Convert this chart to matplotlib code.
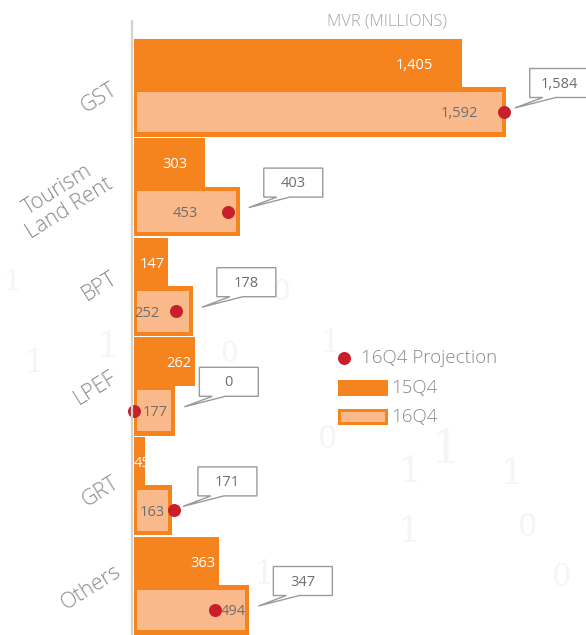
import matplotlib
matplotlib.use("Agg")
import matplotlib.pyplot as plt
from matplotlib.patches import Polygon, Rectangle

# ---------------- data ----------------
categories = ["GST", "Tourism\nLand Rent", "BPT", "LPEF", "GRT", "Others"]
q15_values = [1405, 303, 147, 262, 45, 363]
q16_values = [1592, 453, 252, 177, 163, 494]
projection_values = [1584, 403, 178, 0, 171, 347]
series_names = ["16Q4 Projection", "15Q4", "16Q4"]
axis_title = "MVR (MILLIONS)"

# ---------------- style ----------------
W, H = 586, 635
ORANGE = "#F5841F"
LIGHT = "#F9B98A"
RED = "#C81F2A"
GRAY_TXT = "#8a8a8a"
VAL_GRAY = "#6e6e6e"
BOX_EDGE = "#9a9a9a"
FONT = ["Open Sans", "DejaVu Sans"]
LIGHTW = "light"

X0_PX, PX_PER_UNIT = 134, 0.2335      # axis origin and x scale (pixels)
Y0_PX, PX_PER_CAT = 87, 99.6          # first category centre and spacing (pixels)

LABEL15_DX = [-48, -30, -16, -16, -2, -16]   # label centre offset from bar end (px)
LABEL16_DX = [-46, -55, -46, -20, -20, -16]
CAT_LABEL_XY = [(99, 98), (64, 199), (100, 286), (96, 388), (100, 492), (91, 588)]

fig = plt.figure(figsize=(W / 100, H / 100), dpi=100)
fig.patch.set_facecolor("white")

# background (watermark) axes in pixel coordinates
bg = fig.add_axes([0, 0, 1, 1], zorder=0)
bg.set_xlim(0, W); bg.set_ylim(H, 0); bg.axis("off")
wm = [(445, 450, "1", 34), (410, 472, "1", 26), (512, 474, "1", 26), (409, 532, "1", 26),
      (108, 347, "1", 26), (12, 283, "1", 20), (34, 363, "1", 22), (328, 440, "0", 22),
      (528, 528, "0", 22), (562, 578, "0", 22), (281, 293, "0", 20), (229, 355, "0", 20),
      (330, 343, "1", 22), (265, 575, "1", 24)]
for x, y, s, fs in wm:
    bg.text(x, y, s, color="#f5f5f5", fontsize=fs, family="DejaVu Serif",
            ha="center", va="center")

# main data axes
ax = fig.add_axes([0, 0, 1, 1], zorder=1)
ax.patch.set_alpha(0)
ax.set_xlim(-X0_PX / PX_PER_UNIT, (W - X0_PX) / PX_PER_UNIT)
ax.set_ylim((H - Y0_PX) / PX_PER_CAT, -Y0_PX / PX_PER_CAT)
ax.axis("off")

# overlay in pixel coordinates
ov = fig.add_axes([0, 0, 1, 1], zorder=2)
ov.patch.set_alpha(0)
ov.set_xlim(0, W); ov.set_ylim(H, 0); ov.axis("off")


def to_px(x, y):
    return ov.transData.inverted().transform(ax.transData.transform((x, y)))


ypos = list(range(len(categories)))
inset_l = 3 / PX_PER_UNIT
inset_r = 4 / PX_PER_UNIT
inset_y = 4.5 / PX_PER_CAT

# bars
ax.barh([y - 0.24 for y in ypos], q15_values, height=0.49, color=ORANGE, zorder=2)
ax.barh([y + 0.25 for y in ypos], q16_values, height=0.5, color=ORANGE, zorder=2)
ax.barh([y + 0.25 for y in ypos], [v - inset_l - inset_r for v in q16_values],
        left=inset_l, height=0.5 - 2 * inset_y, color=LIGHT, zorder=3)

# projection dots
ax.scatter(projection_values, [y + 0.25 for y in ypos], s=(13 * 0.72) ** 2,
           color=RED, zorder=5, linewidths=0)

# axis line
ov.plot([132, 132], [20, H], color="#d2d2d2", lw=1.6, zorder=1, solid_capstyle="butt")

# title
ov.text(387, 22, axis_title, color="#a3a3a3", fontsize=12, family=FONT,
        weight=LIGHTW, ha="center", va="center")

for i, y in enumerate(ypos):
    # value labels
    ex15, cy15 = to_px(q15_values[i], y - 0.24)
    ov.text(ex15 + LABEL15_DX[i], cy15 + 2, f"{q15_values[i]:,}", color="white",
            fontsize=10.5, family=FONT, ha="center", va="center", zorder=6)
    ex16, cy16 = to_px(q16_values[i], y + 0.25)
    ov.text(ex16 + LABEL16_DX[i], cy16 + 2, f"{q16_values[i]:,}", color=VAL_GRAY,
            fontsize=10.5, family=FONT, ha="center", va="center", zorder=6)

    # category labels
    lx, ly = CAT_LABEL_XY[i]
    ov.text(lx, ly, categories[i], color=GRAY_TXT, fontsize=15.5, family=FONT,
            weight=LIGHTW, rotation=32, ha="center", va="center",
            multialignment="center", linespacing=1.1)

    # callout box
    dx_px, _ = to_px(projection_values[i], y)
    _, cc = to_px(0, y)
    bl = max(ex16, dx_px) + 24
    bw, bh = 59, 29
    top, bot = cc - 4 - bh / 2, cc - 4 + bh / 2
    tip = (bl - 15, cc + 21)
    verts = [(bl, top), (bl + bw, top), (bl + bw, bot), (bl + 26, bot), tip,
             (bl + 13, bot), (bl, bot)]
    ov.add_patch(Polygon(verts, closed=True, facecolor="white", edgecolor=BOX_EDGE,
                         lw=1.0, zorder=7, joinstyle="miter"))
    ov.text(bl + bw / 2, (top + bot) / 2 + 1, f"{projection_values[i]:,}",
            color=VAL_GRAY, fontsize=10.5, family=FONT,
            ha="center", va="center", zorder=8)

# legend
ov.scatter([344], [358], s=(13 * 0.72) ** 2, color=RED, linewidths=0, zorder=6)
ov.text(361, 358, series_names[0], color=GRAY_TXT, fontsize=13.5, family=FONT,
        weight=LIGHTW, ha="left", va="center")
ov.add_patch(Rectangle((338, 380), 50, 16, facecolor=ORANGE, edgecolor="none", zorder=5))
ov.text(391, 388, series_names[1], color=GRAY_TXT, fontsize=13.5, family=FONT,
        weight=LIGHTW, ha="left", va="center")
ov.add_patch(Rectangle((338, 409), 50, 16, facecolor=ORANGE, edgecolor="none", zorder=5))
ov.add_patch(Rectangle((341, 412), 44, 10, facecolor=LIGHT, edgecolor="none", zorder=6))
ov.text(391, 417, series_names[2], color=GRAY_TXT, fontsize=13.5, family=FONT,
        weight=LIGHTW, ha="left", va="center")

fig.savefig("out.png", dpi=100, facecolor="white")
